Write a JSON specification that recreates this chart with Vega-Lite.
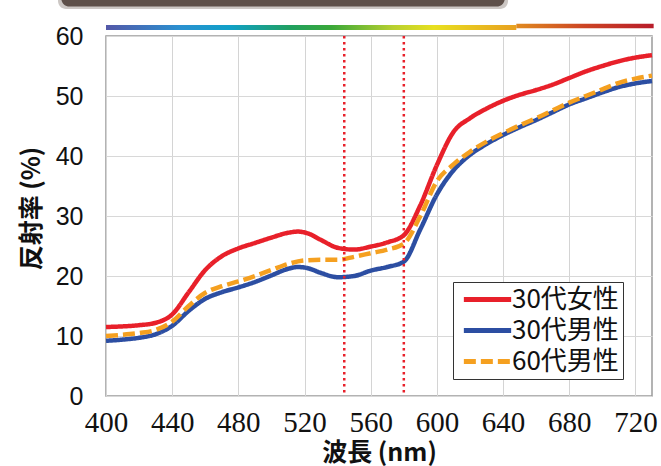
{
  "$schema": "https://vega.github.io/schema/vega-lite/v6.json",
  "width": 546,
  "height": 360,
  "autosize": {"type": "none"},
  "padding": {"left": 106, "top": 36, "right": 9, "bottom": 70},
  "background": "white",
  "config": {
    "view": {"stroke": "#9a9a9a", "strokeWidth": 1.5},
    "font": "Noto Sans CJK JP",
    "legend": {
      "orient": "none",
      "legendX": 347,
      "legendY": 246,
      "padding": 4,
      "rowPadding": 4,
      "strokeColor": "#333333",
      "strokeWidth": 1,
      "fillColor": "white",
      "symbolType": "M-2.15,0L2.15,0",
      "symbolSize": 484,
      "symbolStrokeWidth": 5,
      "symbolOffset": 17,
      "labelOffset": 11,
      "labelFont": "Noto Sans CJK JP",
      "labelFontSize": 26,
      "labelColor": "#111111",
      "labelLimit": 300
    }
  },
  "datasets": {
    "curves": [
      {"wl": 400, "r": 11.5, "s": "30代女性"}, {"wl": 410, "r": 11.6, "s": "30代女性"}, {"wl": 420, "r": 11.8, "s": "30代女性"}, {"wl": 430, "r": 12.2, "s": "30代女性"}, {"wl": 440, "r": 13.6, "s": "30代女性"}, {"wl": 450, "r": 17.3, "s": "30代女性"}, {"wl": 460, "r": 21.0, "s": "30代女性"}, {"wl": 470, "r": 23.3, "s": "30代女性"}, {"wl": 480, "r": 24.6, "s": "30代女性"}, {"wl": 490, "r": 25.5, "s": "30代女性"}, {"wl": 500, "r": 26.4, "s": "30代女性"}, {"wl": 510, "r": 27.2, "s": "30代女性"}, {"wl": 516, "r": 27.4, "s": "30代女性"}, {"wl": 522, "r": 27.1, "s": "30代女性"}, {"wl": 530, "r": 26.0, "s": "30代女性"}, {"wl": 540, "r": 24.7, "s": "30代女性"}, {"wl": 550, "r": 24.4, "s": "30代女性"}, {"wl": 560, "r": 24.9, "s": "30代女性"}, {"wl": 570, "r": 25.6, "s": "30代女性"}, {"wl": 580, "r": 26.8, "s": "30代女性"}, {"wl": 590, "r": 31.8, "s": "30代女性"}, {"wl": 600, "r": 38.5, "s": "30代女性"}, {"wl": 610, "r": 44.0, "s": "30代女性"}, {"wl": 620, "r": 46.3, "s": "30代女性"}, {"wl": 630, "r": 47.9, "s": "30代女性"}, {"wl": 640, "r": 49.2, "s": "30代女性"}, {"wl": 650, "r": 50.2, "s": "30代女性"}, {"wl": 660, "r": 51.0, "s": "30代女性"}, {"wl": 670, "r": 51.9, "s": "30代女性"}, {"wl": 680, "r": 53.0, "s": "30代女性"}, {"wl": 690, "r": 54.1, "s": "30代女性"}, {"wl": 700, "r": 55.0, "s": "30代女性"}, {"wl": 710, "r": 55.8, "s": "30代女性"}, {"wl": 720, "r": 56.4, "s": "30代女性"}, {"wl": 730, "r": 56.8, "s": "30代女性"},
      {"wl": 400, "r": 9.2, "s": "30代男性"}, {"wl": 410, "r": 9.4, "s": "30代男性"}, {"wl": 420, "r": 9.7, "s": "30代男性"}, {"wl": 430, "r": 10.3, "s": "30代男性"}, {"wl": 440, "r": 11.7, "s": "30代男性"}, {"wl": 450, "r": 14.2, "s": "30代男性"}, {"wl": 460, "r": 16.2, "s": "30代男性"}, {"wl": 470, "r": 17.3, "s": "30代男性"}, {"wl": 480, "r": 18.1, "s": "30代男性"}, {"wl": 490, "r": 19.0, "s": "30代男性"}, {"wl": 500, "r": 20.1, "s": "30代男性"}, {"wl": 510, "r": 21.2, "s": "30代男性"}, {"wl": 516, "r": 21.5, "s": "30代男性"}, {"wl": 522, "r": 21.3, "s": "30代男性"}, {"wl": 530, "r": 20.5, "s": "30代男性"}, {"wl": 540, "r": 19.8, "s": "30代男性"}, {"wl": 550, "r": 20.0, "s": "30代男性"}, {"wl": 560, "r": 20.9, "s": "30代男性"}, {"wl": 570, "r": 21.5, "s": "30代男性"}, {"wl": 580, "r": 22.4, "s": "30代男性"}, {"wl": 590, "r": 27.8, "s": "30代男性"}, {"wl": 600, "r": 33.6, "s": "30代男性"}, {"wl": 610, "r": 37.6, "s": "30代男性"}, {"wl": 620, "r": 40.2, "s": "30代男性"}, {"wl": 630, "r": 42.0, "s": "30代男性"}, {"wl": 640, "r": 43.5, "s": "30代男性"}, {"wl": 650, "r": 44.8, "s": "30代男性"}, {"wl": 660, "r": 46.0, "s": "30代男性"}, {"wl": 670, "r": 47.3, "s": "30代男性"}, {"wl": 680, "r": 48.6, "s": "30代男性"}, {"wl": 690, "r": 49.6, "s": "30代男性"}, {"wl": 700, "r": 50.6, "s": "30代男性"}, {"wl": 710, "r": 51.5, "s": "30代男性"}, {"wl": 720, "r": 52.1, "s": "30代男性"}, {"wl": 730, "r": 52.5, "s": "30代男性"},
      {"wl": 400, "r": 10.0, "s": "60代男性"}, {"wl": 410, "r": 10.2, "s": "60代男性"}, {"wl": 420, "r": 10.5, "s": "60代男性"}, {"wl": 430, "r": 11.0, "s": "60代男性"}, {"wl": 440, "r": 12.4, "s": "60代男性"}, {"wl": 450, "r": 15.0, "s": "60代男性"}, {"wl": 460, "r": 17.2, "s": "60代男性"}, {"wl": 470, "r": 18.3, "s": "60代男性"}, {"wl": 480, "r": 19.1, "s": "60代男性"}, {"wl": 490, "r": 20.0, "s": "60代男性"}, {"wl": 500, "r": 21.0, "s": "60代男性"}, {"wl": 510, "r": 22.0, "s": "60代男性"}, {"wl": 520, "r": 22.6, "s": "60代男性"}, {"wl": 530, "r": 22.7, "s": "60代男性"}, {"wl": 540, "r": 22.7, "s": "60代男性"}, {"wl": 550, "r": 23.2, "s": "60代男性"}, {"wl": 560, "r": 23.8, "s": "60代男性"}, {"wl": 570, "r": 24.4, "s": "60代男性"}, {"wl": 580, "r": 25.4, "s": "60代男性"}, {"wl": 590, "r": 30.0, "s": "60代男性"}, {"wl": 600, "r": 35.8, "s": "60代男性"}, {"wl": 610, "r": 38.6, "s": "60代男性"}, {"wl": 620, "r": 40.7, "s": "60代男性"}, {"wl": 630, "r": 42.4, "s": "60代男性"}, {"wl": 640, "r": 43.8, "s": "60代男性"}, {"wl": 650, "r": 45.1, "s": "60代男性"}, {"wl": 660, "r": 46.3, "s": "60代男性"}, {"wl": 670, "r": 47.6, "s": "60代男性"}, {"wl": 680, "r": 48.9, "s": "60代男性"}, {"wl": 690, "r": 50.0, "s": "60代男性"}, {"wl": 700, "r": 51.1, "s": "60代男性"}, {"wl": 710, "r": 52.2, "s": "60代男性"}, {"wl": 720, "r": 52.9, "s": "60代男性"}, {"wl": 730, "r": 53.4, "s": "60代男性"}
    ],
    "vlines": [{"wl": 544}, {"wl": 580}],
    "box": [{"x1": 373, "x2": 641, "y1": 64.9, "y2": 70}],
    "shadow": [{"x1": 371, "x2": 643, "y1": 64.5, "y2": 70}],
    "bar1": [{"x1": 400, "x2": 648, "y1": 61.0, "y2": 61.85}],
    "bar2": [{"x1": 648, "x2": 731, "y1": 61.3, "y2": 62.05}]
  },
  "layer": [
    {
      "data": {"name": "curves"},
      "mark": {"type": "line", "interpolate": "monotone", "strokeWidth": 4.5},
      "encoding": {
        "x": {
          "field": "wl", "type": "quantitative",
          "scale": {"domain": [400, 730], "nice": false, "zero": false},
          "axis": {
            "title": "波長 (nm)",
            "values": [400, 410, 420, 430, 440, 450, 460, 470, 480, 490, 500, 510, 520, 530, 540, 550, 560, 570, 580, 590, 600, 610, 620, 630, 640, 650, 660, 670, 680, 690, 700, 710, 720, 730],
            "labelExpr": "datum.value % 40 === 0 ? datum.label : ''",
            "labelOverlap": false,
            "labelFlush": false,
            "labelFont": "Liberation Sans Narrow",
            "labelFontSize": 29,
            "labelColor": "#111111",
            "labelPadding": 12,
            "ticks": false,
            "domain": false,
            "grid": true,
            "gridColor": {"condition": {"test": "datum.value % 40 === 0", "value": "#d4d4d4"}, "value": "#ededed"},
            "gridWidth": 1,
            "titleFont": "Noto Sans CJK JP",
            "titleFontSize": 25,
            "titleFontWeight": "bold",
            "titleColor": "#111111",
            "titleX": 273,
            "titleY": 56,
            "titleAlign": "center",
            "titleBaseline": "middle"
          }
        },
        "y": {
          "field": "r", "type": "quantitative",
          "scale": {"domain": [0, 60], "nice": false},
          "axis": {
            "title": "反射率 (%)",
            "values": [0, 10, 20, 30, 40, 50, 60],
            "labelFont": "Liberation Sans",
            "labelFontSize": 25,
            "labelColor": "#111111",
            "labelPadding": 23,
            "ticks": false,
            "domain": false,
            "grid": true,
            "gridColor": "#d8d8d8",
            "titleFont": "Noto Sans CJK JP",
            "titleFontSize": 25,
            "titleFontWeight": "bold",
            "titleColor": "#111111",
            "titleX": -75,
            "titleY": 172,
            "titleAngle": -90,
            "titleAlign": "center",
            "titleBaseline": "middle"
          }
        },
        "color": {
          "field": "s", "type": "nominal", "title": null,
          "scale": {"domain": ["30代女性", "30代男性", "60代男性"], "range": ["#e8202a", "#2c4ea2", "#f5a020"]}
        },
        "strokeDash": {
          "field": "s", "type": "nominal", "title": null,
          "scale": {"domain": ["30代女性", "30代男性", "60代男性"], "range": [[1, 0], [1, 0], [12, 5]]}
        }
      }
    },
    {
      "data": {"name": "vlines"},
      "mark": {"type": "rule", "color": "#e8202a", "strokeWidth": 2.5, "strokeDash": [2.5, 3.5]},
      "encoding": {"x": {"field": "wl", "type": "quantitative"}}
    },
    {
      "data": {"name": "shadow"},
      "mark": {"type": "rect", "color": "#9a908a", "opacity": 0.5, "cornerRadius": 8, "clip": false},
      "encoding": {
        "x": {"field": "x1", "type": "quantitative"}, "x2": {"field": "x2"},
        "y": {"field": "y1", "type": "quantitative"}, "y2": {"field": "y2"}
      }
    },
    {
      "data": {"name": "box"},
      "mark": {"type": "rect", "color": "#5e504a", "cornerRadius": 8, "clip": false},
      "encoding": {
        "x": {"field": "x1", "type": "quantitative"}, "x2": {"field": "x2"},
        "y": {"field": "y1", "type": "quantitative"}, "y2": {"field": "y2"}
      }
    },
    {
      "data": {"name": "bar1"},
      "mark": {
        "type": "rect", "clip": false,
        "color": {"gradient": "linear", "x1": 0, "x2": 1, "y1": 0, "y2": 0,
          "stops": [
            {"offset": 0, "color": "#5458a8"},
            {"offset": 0.18, "color": "#2a90d0"},
            {"offset": 0.3, "color": "#10a0c8"},
            {"offset": 0.45, "color": "#20a060"},
            {"offset": 0.55, "color": "#3aa838"},
            {"offset": 0.7, "color": "#b8d030"},
            {"offset": 0.8, "color": "#e8e020"},
            {"offset": 1, "color": "#e8a020"}
          ]}
      },
      "encoding": {
        "x": {"field": "x1", "type": "quantitative"}, "x2": {"field": "x2"},
        "y": {"field": "y1", "type": "quantitative"}, "y2": {"field": "y2"}
      }
    },
    {
      "data": {"name": "bar2"},
      "mark": {
        "type": "rect", "clip": false,
        "color": {"gradient": "linear", "x1": 0, "x2": 1, "y1": 0, "y2": 0,
          "stops": [
            {"offset": 0, "color": "#e08a20"},
            {"offset": 0.5, "color": "#cc4424"},
            {"offset": 1, "color": "#b81c2a"}
          ]}
      },
      "encoding": {
        "x": {"field": "x1", "type": "quantitative"}, "x2": {"field": "x2"},
        "y": {"field": "y1", "type": "quantitative"}, "y2": {"field": "y2"}
      }
    }
  ]
}
